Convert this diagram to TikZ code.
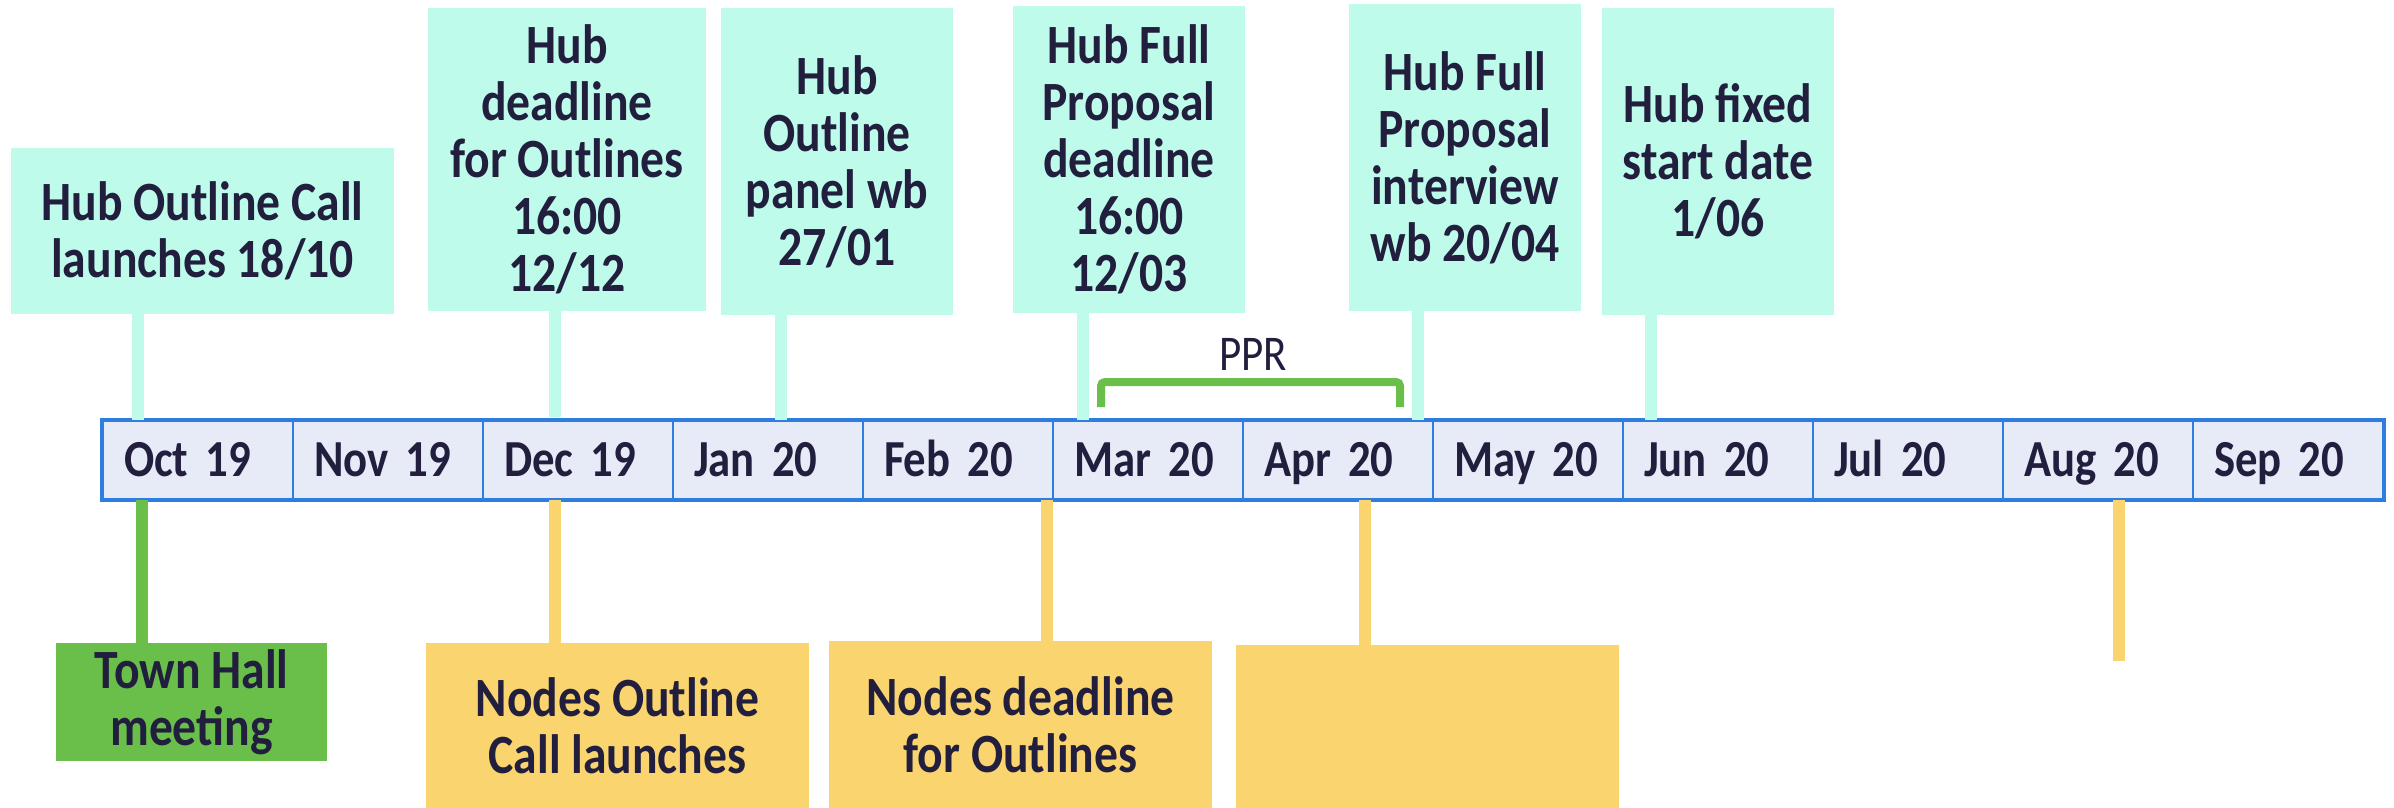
\documentclass[tikz,border=0pt]{standalone}
\usepackage{fontspec}
\setmainfont{Carlito}[FakeStretch=0.86]
\definecolor{mint}{RGB}{190,251,234}
\definecolor{ink}{RGB}{33,30,62}
\definecolor{tlfill}{RGB}{231,235,247}
\definecolor{tlline}{RGB}{46,125,225}
\definecolor{tgreen}{RGB}{106,190,74}
\definecolor{tyellow}{RGB}{250,212,110}
\tikzset{
  boxtext/.style={inner sep=0pt, align=center, text=ink, font=\bfseries\fontsize{27.7}{28.5}\selectfont},
  hubbox/.style={boxtext, fill=mint},
  nodebox/.style={boxtext, fill=tyellow},
  greenbox/.style={boxtext, fill=tgreen},
  cell/.style={draw=tlline, line width=1.1pt, fill=tlfill, minimum width=95pt, minimum height=39pt,
    text width=74pt, inner xsep=10.5pt, inner ysep=0pt, align=left, text height=16.5pt, text depth=0pt,
    text=ink, font=\bfseries\fontsize{26}{28}\selectfont},
  mintconn/.style={draw=mint, line width=6pt},
  yconn/.style={draw=tyellow, line width=6pt},
  gconn/.style={draw=tgreen, line width=6pt},
  bracketline/.style={draw=tgreen, line width=4pt, rounded corners=2pt},
  pprlabel/.style={inner sep=0pt, text=ink, font=\fontsize{25}{27}\selectfont}
}
\begin{document}
\begin{tikzpicture}[x=0.5pt,y=-0.5pt]
\useasboundingbox (0,0) rectangle (2394,808);
% top hub boxes
\node[hubbox, minimum width=191.5pt, minimum height=83pt] (b1) at (202.5,231) {Hub Outline Call\\launches 18/10};
\node[hubbox, minimum width=139pt, minimum height=151.5pt] (b2) at (567,159.5) {Hub\\deadline\\for Outlines\\16:00\\12/12};
\node[hubbox, minimum width=116pt, minimum height=153.5pt] (b3) at (837,161.5) {Hub\\Outline\\panel wb\\27/01};
\node[hubbox, minimum width=116pt, minimum height=153.5pt] (b4) at (1129,159.5) {Hub Full\\Proposal\\deadline\\16:00\\12/03};
\node[hubbox, minimum width=116pt, minimum height=153.5pt] (b5) at (1465,157.5) {Hub Full\\Proposal\\interview\\wb 20/04};
\node[hubbox, minimum width=116pt, minimum height=153.5pt] (b6) at (1718,161.5) {Hub fixed\\start date\\1/06};
% bottom boxes
\node[greenbox, minimum width=135.5pt, minimum height=59pt] (g1) at (191.5,702) {Town Hall\\meeting};
\node[nodebox, minimum width=191.5pt, minimum height=82.5pt] (y1) at (617.5,725.5) {Nodes Outline\\Call launches};
\node[nodebox, minimum width=191.5pt, minimum height=83.5pt] (y2) at (1020.5,724.5) {Nodes deadline\\for Outlines};
\node[nodebox, minimum width=191.5pt, minimum height=81.5pt] (y3) at (1427.5,726.5) {};
% connector x positions
\coordinate (k1) at (138,0);
\coordinate (k2) at (554.5,0);
\coordinate (k2e) at (554.5,417);
\coordinate (k3) at (781,0);
\coordinate (k4) at (1083,0);
\coordinate (k5) at (1418,0);
\coordinate (k6) at (1651,0);
\coordinate (q1) at (142,0);
\coordinate (q2) at (555,0);
\coordinate (q3) at (1047,0);
\coordinate (q4) at (1365,0);
\coordinate (qend) at (2119,661);
% timeline cells
\foreach \lab [count=\i] in {Oct 19,Nov 19,Dec 19,Jan 20,Feb 20,Mar 20,Apr 20,May 20,Jun 20,Jul 20,Aug 20,Sep 20}
  \node[cell] (m\i) at ({198+190*(\i-1)},460) {\lab};
\draw[tlline, line width=1.6pt] (m1.north west) rectangle (m12.south east);
% top connectors
\draw[mintconn] (b1.south -| k1) -- (k1 |- m1.north);
\draw[mintconn] (b2.south -| k2) -- (k2e);
\draw[mintconn] (b3.south -| k3) -- (k3 |- m4.north);
\draw[mintconn] (b4.south -| k4) -- (k4 |- m6.north);
\draw[mintconn] (b5.south -| k5) -- (k5 |- m7.north);
\draw[mintconn] (b6.south -| k6) -- (k6 |- m9.north);
% bottom connectors
\draw[gconn] (q1 |- m1.south) -- (g1.north -| q1);
\draw[yconn] (q2 |- m3.south) -- (y1.north -| q2);
\draw[yconn] (q3 |- m5.south) -- (y2.north -| q3);
\draw[yconn] (q4 |- m7.south) -- (y3.north -| q4);
\draw[yconn] (qend |- m11.south) -- (qend);
% PPR bracket
\node[pprlabel] (ppr) at (1253,354) {PPR};
\draw[bracketline] (1101,407) -- (1101,382) -- (1400,382) -- (1400,407);
\end{tikzpicture}
\end{document}
